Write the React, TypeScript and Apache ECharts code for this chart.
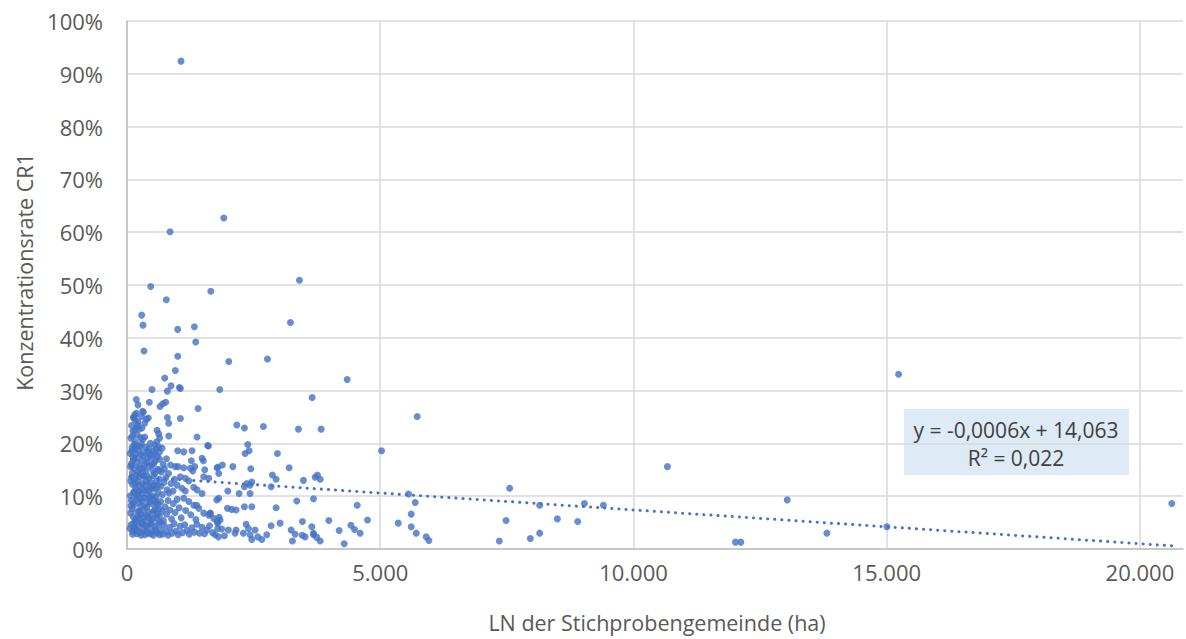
import React, { useEffect, useRef } from "react";
import * as echarts from "echarts";

// [LN der Stichprobengemeinde (ha), Konzentrationsrate CR1 (%)]
const highOutliers: number[][] = [
  [1067, 92.4], [1911, 62.7], [850, 60.1], [468, 49.7], [3405, 50.9], [1654, 48.8], [777, 47.2],
  [290, 44.3], [316, 42.4], [1001, 41.6], [1330, 42.1], [3227, 42.9], [1357, 39.2], [336, 37.5],
  [1001, 36.5], [2009, 35.5], [2773, 36.0], [955, 33.8], [745, 32.4], [869, 30.9], [494, 30.2],
  [797, 29.9], [1034, 30.6], [1054, 30.4], [1831, 30.2], [3656, 28.7], [4347, 32.1], [15235, 33.1],
  [184, 28.3],
];

const upperBand: number[][] = [
  [217, 27.3], [441, 27.8], [652, 27.0], [705, 27.5], [764, 27.8], [1403, 26.6], [310, 26.1],
  [152, 25.4], [125, 24.9], [797, 24.9], [1054, 24.7], [421, 24.8], [184, 25.7], [138, 24.9],
  [158, 24.4], [217, 24.1], [283, 25.1], [322, 25.9], [381, 24.6], [350, 23.8], [824, 23.8],
  [296, 22.9], [593, 22.5], [626, 21.8], [646, 21.0], [587, 20.3], [824, 21.4], [1383, 21.2],
  [350, 21.2], [310, 20.8], [165, 20.3], [461, 20.0], [547, 19.7], [626, 19.3], [692, 19.1],
  [2168, 23.5], [2318, 22.9], [2693, 23.2], [3385, 22.7], [3833, 22.7], [5730, 25.1], [1594, 19.6],
  [2385, 19.8], [100, 19.2], [75, 21.0], [115, 22.3], [90, 23.4], [140, 19.8], [200, 21.6],
  [240, 22.7], [265, 19.4], [190, 23.1], [1001, 18.6], [1120, 18.4], [1284, 18.6], [1607, 19.5],
  [1482, 17.2],
];

const band14to19: number[][] = [
  [95, 18.6], [120, 17.4], [88, 16.2], [140, 15.3], [105, 14.4], [178, 18.0], [165, 17.2],
  [200, 16.5], [240, 15.6], [215, 14.6], [262, 17.9], [290, 16.8], [318, 15.2], [340, 18.3],
  [365, 14.8], [390, 16.4], [415, 18.4], [440, 15.7], [461, 17.8], [474, 17.3], [505, 14.9],
  [530, 16.2], [547, 18.0], [560, 16.7], [593, 17.5], [610, 15.1], [639, 18.3], [646, 17.0],
  [680, 14.6], [715, 16.0], [740, 15.2], [780, 17.1], [820, 14.3], [860, 15.9], [955, 15.6],
  [1008, 15.6], [1251, 15.3], [1298, 14.8], [1337, 15.6], [1120, 15.4], [1535, 15.0],
  [1778, 15.4], [1812, 14.3], [1271, 16.7], [1508, 16.7],
];

const band10to14: number[][] = [
  [92, 13.6], [110, 12.2], [130, 10.6], [150, 13.1], [172, 11.4], [195, 9.9], [210, 12.8],
  [236, 11.0], [255, 13.7], [280, 10.2], [302, 12.4], [330, 13.8], [350, 11.1], [378, 12.9],
  [400, 10.4], [425, 13.3], [450, 11.8], [478, 12.6], [500, 10.1], [525, 13.9], [555, 11.5],
  [580, 12.8], [610, 10.8], [640, 13.2], [670, 11.9], [700, 10.3], [730, 12.6], [765, 13.5],
  [790, 11.2], [830, 10.6], [870, 12.4], [910, 11.0], [940, 13.2], [988, 12.1], [1054, 13.7],
  [1087, 11.5], [1152, 13.4], [1152, 11.0], [1219, 12.9], [1318, 11.7], [1383, 11.2],
  [1482, 10.5], [1515, 13.7], [1614, 13.4],
];

const band5to10: number[][] = [
  [85, 9.2], [100, 7.6], [125, 6.1], [145, 8.4], [160, 5.5], [188, 9.5], [205, 7.1], [228, 5.8],
  [250, 8.8], [272, 6.6], [295, 9.1], [315, 7.4], [338, 5.3], [360, 8.2], [385, 6.4], [408, 9.4],
  [430, 7.0], [455, 5.6], [480, 8.6], [505, 6.8], [535, 9.3], [560, 7.7], [585, 5.9], [615, 8.4],
  [640, 6.3], [665, 9.0], [695, 7.2], [720, 5.4], [750, 8.0], [780, 6.6], [810, 9.2], [845, 7.4],
  [880, 5.7], [915, 8.6], [950, 6.9], [990, 9.4], [1030, 7.8], [1070, 5.9], [1120, 9.6],
  [1160, 7.3], [1219, 9.0], [1260, 6.5], [1318, 8.3], [1360, 5.6], [1417, 7.7], [1515, 6.8],
  [1614, 6.4], [1646, 6.8], [1713, 5.8], [1778, 5.2], [1812, 9.6], [1377, 8.3], [1772, 9.3],
  [1640, 6.7],
];

const band2to5: number[][] = [
  [80, 4.6], [110, 3.4], [135, 4.9], [170, 3.8], [195, 2.9], [225, 4.4], [260, 3.2], [290, 4.8],
  [320, 3.6], [355, 2.7], [390, 4.2], [420, 3.0], [455, 4.7], [490, 3.5], [520, 2.6], [555, 4.3],
  [590, 3.1], [625, 4.9], [660, 3.7], [700, 2.8], [735, 4.5], [770, 3.3], [810, 2.6], [850, 4.1],
  [890, 3.0], [930, 4.8], [970, 3.4], [1010, 2.7], [1050, 4.3], [1095, 3.1], [1140, 4.6],
  [1185, 3.5], [1230, 2.8], [1280, 4.0], [1330, 3.2], [1380, 4.7], [1430, 3.0], [1480, 4.1],
  [1530, 2.9], [1580, 3.6], [1630, 4.4], [1690, 3.1], [1740, 2.7], [1790, 3.9], [1838, 5.5],
  [1871, 3.8], [1805, 2.3], [1923, 2.5],
];

const denseCore: number[][] = [
  [60, 3.9], [70, 6.8], [65, 10.1], [72, 12.9], [68, 15.6], [62, 18.1], [78, 8.2], [150, 4.1],
  [180, 5.2], [210, 6.0], [240, 7.1], [270, 8.0], [300, 5.0], [330, 6.1], [360, 4.4], [390, 7.9],
  [420, 6.0], [450, 8.9], [480, 4.9], [510, 5.7], [540, 7.3], [570, 8.8], [600, 6.6], [630, 7.6],
  [660, 5.1], [120, 8.7], [140, 10.9], [165, 12.3], [185, 14.0], [220, 10.4], [245, 12.0],
  [275, 14.2], [305, 11.3], [335, 9.7], [365, 12.1], [395, 13.9], [430, 11.0], [460, 9.8],
  [490, 11.4], [520, 12.0], [550, 14.3], [575, 9.9], [605, 12.0], [630, 14.9], [100, 15.8],
  [125, 16.9], [155, 18.9], [190, 19.6], [225, 18.7], [255, 15.2], [285, 19.9], [315, 17.6],
  [345, 16.0], [375, 19.3], [405, 17.2], [435, 19.0], [490, 16.0], [520, 18.5], [575, 19.0],
  [110, 21.4], [160, 22.6], [215, 23.4], [270, 21.1], [110, 2.8], [200, 3.4], [280, 2.6],
  [380, 3.3], [470, 2.9], [560, 3.7], [640, 2.7],
];

const midRange: number[][] = [
  [2411, 18.6], [2332, 18.1], [2970, 18.1], [1792, 15.5], [1884, 15.9], [2089, 15.6], [2444, 15.2],
  [3201, 15.4], [2871, 14.0], [2944, 13.2], [3484, 13.0], [3715, 13.6], [3760, 14.0], [3814, 13.2],
  [2464, 12.7], [2430, 12.1], [2318, 11.8], [2213, 10.5], [1990, 11.0], [2846, 11.8], [2365, 12.4],
  [2430, 10.5], [3352, 9.1], [3682, 9.5], [1982, 7.7], [2068, 7.5], [2154, 7.4], [2318, 8.0],
  [2464, 8.0], [2944, 7.8], [1818, 6.0], [1792, 4.9], [2351, 4.7], [2398, 3.9], [2529, 3.6],
  [2583, 2.3], [2431, 2.7], [2298, 3.0], [2154, 3.6], [2134, 3.0], [2002, 3.6], [2662, 1.8],
  [2760, 2.7], [2846, 4.4], [3023, 4.9], [3241, 3.6], [3320, 2.8], [3464, 5.2], [3517, 2.3],
  [3649, 4.2], [3682, 2.7], [3267, 1.5], [2464, 1.8], [3458, 2.6], [3748, 2.2], [3814, 1.5],
  [3682, 3.0], [3985, 5.4], [4189, 3.5], [4420, 4.5], [4492, 3.7], [4604, 3.0], [4749, 5.5],
  [5355, 4.9], [4288, 1.0], [4545, 8.3], [5559, 10.4], [5691, 8.8], [5612, 6.6], [5612, 4.2],
  [5711, 3.0], [5908, 2.3], [5961, 1.6], [5026, 18.6],
];

const farRange: number[][] = [
  [7351, 1.5], [7555, 11.5], [10670, 15.6], [8148, 8.3], [9031, 8.6], [9406, 8.3], [7484, 5.4],
  [8497, 5.7], [8898, 5.2], [7963, 2.0], [8148, 3.0], [12014, 1.3], [12119, 1.3], [13036, 9.3],
  [13818, 3.0], [15004, 4.2], [20629, 8.6],
];

const trendSlope = -0.00064;
const trendIntercept = 13.8;
const equationText = "y = -0,0006x + 14,063";
const r2Text = "R² = 0,022";
const xTitle = "LN der Stichprobengemeinde (ha)";
const yTitle = "Konzentrationsrate CR1";

const FONT = "'Open Sans', 'Noto Sans', sans-serif";
const BLUE = "#4472C4";
const GREY = "#595959";

const fmtThousands = (v: number) => String(v).replace(/\B(?=(\d{3})+(?!\d))/g, ".");

export default function App() {
  const ref = useRef<HTMLDivElement>(null);
  useEffect(() => {
    if (!ref.current) return;
    const chart = echarts.init(ref.current, undefined, { renderer: "svg" });
    const all = [
      ...highOutliers, ...upperBand, ...band14to19, ...band10to14,
      ...band5to10, ...band2to5, ...denseCore, ...midRange, ...farRange,
    ];
    const xs = all.map((p) => p[0]);
    const xMin = Math.min(...xs);
    const xMax = Math.max(...xs);
    const trend = [
      [xMin, trendIntercept + trendSlope * xMin],
      [xMax, trendIntercept + trendSlope * xMax],
    ];
    chart.setOption({
      animation: false,
      grid: { left: 127, right: 3, top: 21, bottom: 90, containLabel: false },
      xAxis: {
        type: "value",
        min: 0,
        max: 20850,
        interval: 5000,
        axisLine: { show: true, lineStyle: { color: "#BFBFBF", width: 1.5 } },
        axisTick: { show: false },
        axisLabel: {
          color: GREY,
          fontFamily: FONT,
          fontSize: 22,
          margin: 12,
          showMaxLabel: false,
          formatter: (v: number) => (v % 5000 === 0 ? fmtThousands(v) : ""),
        },
        splitLine: { show: true, showMaxLine: false, lineStyle: { color: "#D9D9D9", width: 1.5 } },
      },
      yAxis: {
        type: "value",
        min: 0,
        max: 100,
        interval: 10,
        axisLine: { show: true, lineStyle: { color: "#BFBFBF", width: 1.5 } },
        axisTick: { show: false },
        axisLabel: {
          color: GREY,
          fontFamily: FONT,
          fontSize: 22,
          margin: 24,
          formatter: "{value}%",
        },
        splitLine: { show: true, lineStyle: { color: "#D9D9D9", width: 1.5 } },
      },
      graphic: [
        {
          type: "text",
          style: {
            text: xTitle,
            x: 657,
            y: 622,
            fill: GREY,
            font: `21.5px ${FONT}`,
            align: "center",
            verticalAlign: "middle",
          },
        },
        {
          type: "text",
          x: 24,
          y: 272,
          rotation: Math.PI / 2,
          style: {
            text: yTitle,
            x: 0,
            y: 0,
            fill: GREY,
            font: `21.5px ${FONT}`,
            align: "center",
            verticalAlign: "middle",
          },
        },
        {
          type: "rect",
          shape: { x: 904, y: 409, width: 225, height: 66 },
          style: { fill: "#DEEAF6" },
        },
        {
          type: "text",
          style: {
            text: equationText,
            x: 1016,
            y: 430,
            fill: "#404040",
            font: `21px ${FONT}`,
            align: "center",
            verticalAlign: "middle",
          },
        },
        {
          type: "text",
          style: {
            text: r2Text,
            x: 1016,
            y: 458,
            fill: "#404040",
            font: `21px ${FONT}`,
            align: "center",
            verticalAlign: "middle",
          },
        },
      ],
      series: [
        {
          type: "scatter",
          data: all,
          symbol: "circle",
          symbolSize: 7,
          itemStyle: { color: BLUE },
        },
        {
          type: "line",
          data: trend,
          symbol: "none",
          lineStyle: { color: BLUE, width: 3, type: [0.1, 7], cap: "round" },
        },
      ],
    });
    return () => chart.dispose();
  }, []);
  return (
    <div
      ref={ref}
      style={{ position: "fixed", left: 0, top: 0, width: 1186, height: 639, background: "#fff" }}
    />
  );
}
